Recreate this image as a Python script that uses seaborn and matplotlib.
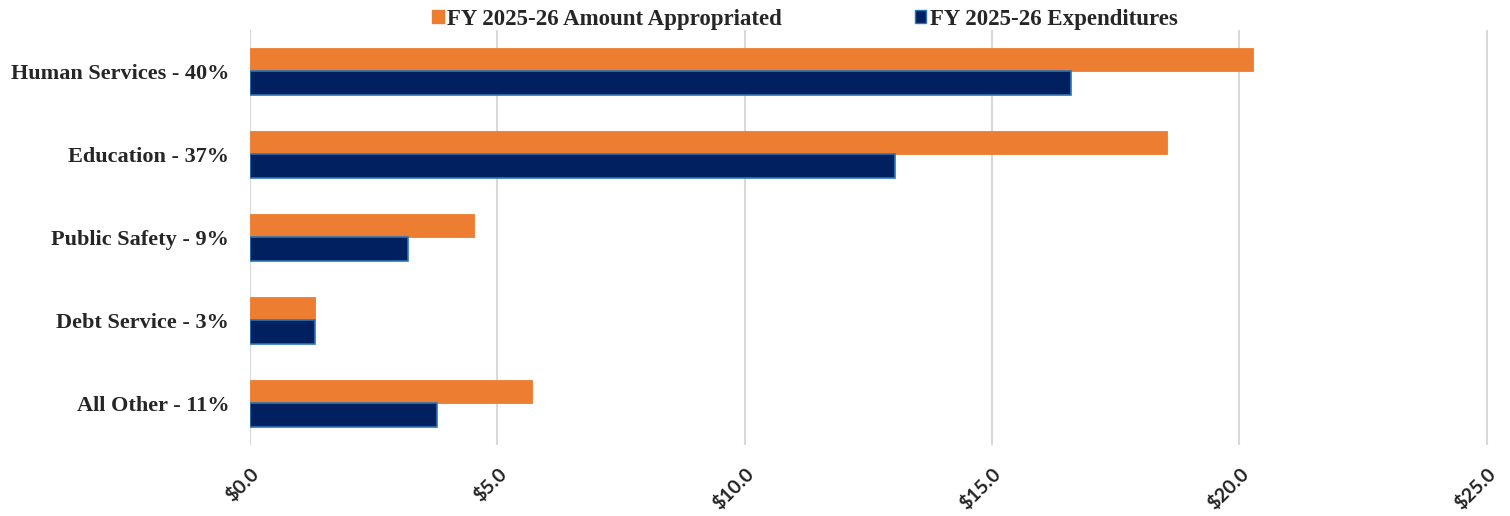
import matplotlib
matplotlib.use("Agg")
import matplotlib.pyplot as plt
import seaborn as sns
import pandas as pd
from matplotlib.patches import Patch

# datos
categorias = ["Human Services - 40%", "Education - 37%", "Public Safety - 9%",
              "Debt Service - 3%", "All Other - 11%"]
apropiado = [20.28, 18.54, 4.52, 1.31, 5.70]
gastos = [16.6, 13.05, 3.19, 1.31, 3.78]
series = ["FY 2025-26 Amount Appropriated", "FY 2025-26 Expenditures"]
ticks = [0, 5, 10, 15, 20, 25]
tick_labels = ["$0.0", "$5.0", "$10.0", "$15.0", "$20.0", "$25.0"]

naranja = "#ED7D31"
azul = "#002060"

df = pd.DataFrame({
    "Categoria": categorias * 2,
    "Monto": apropiado + gastos,
    "Serie": [series[0]] * len(categorias) + [series[1]] * len(categorias),
})

sns.set_style("white")
plt.rcParams["font.family"] = ["Liberation Serif", "DejaVu Serif"]

fig = plt.figure(figsize=(15.1, 5.16), dpi=100)
ax = fig.add_axes([0.1656, 0.1376, 0.8205, 0.8045])

sns.barplot(data=df, y="Categoria", x="Monto", hue="Serie", orient="h",
            palette=[naranja, azul], width=0.56, saturation=1, ax=ax,
            legend=False)

# borde azul claro en las barras de gastos
for p in ax.patches:
    if p.get_facecolor()[2] > 0.3 and p.get_facecolor()[0] < 0.1:
        p.set_edgecolor("#2E75B6")
        p.set_linewidth(1.2)
    else:
        p.set_edgecolor(naranja)
        p.set_linewidth(0.6)

ax.set_xlim(0, 25.05)
ax.set_xticks(ticks)
ax.set_xticklabels(tick_labels, rotation=45, ha="right", rotation_mode="anchor",
                   family=["Lato", "DejaVu Sans"], fontsize=14, fontweight="bold",
                   color="#222222")
ax.tick_params(axis="x", length=0, pad=14)
ax.tick_params(axis="y", length=0, pad=15)
for lbl in ax.get_yticklabels():
    lbl.set_fontsize(16)
    lbl.set_fontweight("bold")
ax.set_xlabel("")
ax.set_ylabel("")

ax.grid(axis="x", color="#D9D9D9", linewidth=1.5)
ax.set_axisbelow(True)
for s in ax.spines.values():
    s.set_visible(False)

handles = [Patch(facecolor=naranja, edgecolor=naranja),
           Patch(facecolor=azul, edgecolor="#2E75B6")]
fig.legend(handles, series, loc="center", bbox_to_anchor=(0.533, 0.963), ncol=2,
           frameon=False, handlelength=0.5, handleheight=0.5, handletextpad=0.15,
           columnspacing=5.8, prop={"family": "Liberation Serif", "weight": "bold", "size": 16.5})

fig.savefig("out.png", dpi=100)
